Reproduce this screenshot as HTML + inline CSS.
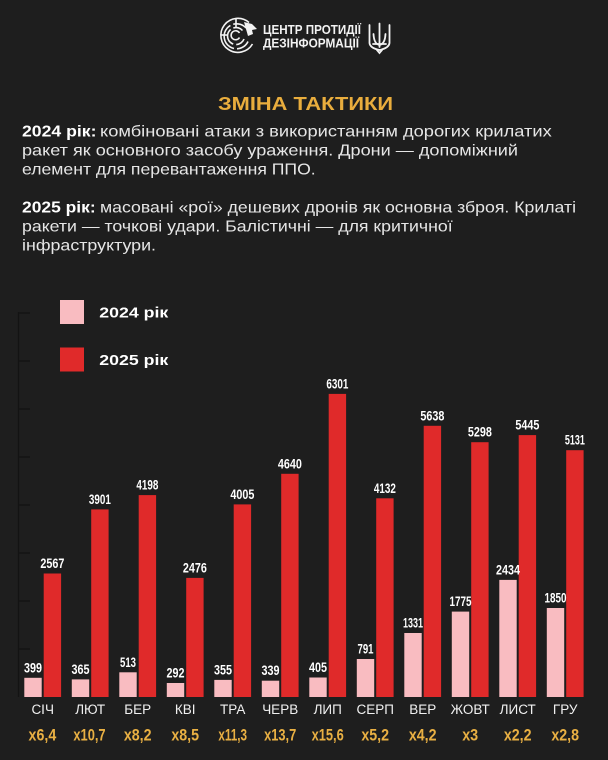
<!DOCTYPE html>
<html>
<head>
<meta charset="utf-8">
<style>
  html,body{margin:0;padding:0;background:#1e1e1e;}
  svg{display:block;}
  .ft{font-family:"Liberation Sans","Noto Sans CJK SC",sans-serif;}
</style>
</head>
<body>
<svg width="608" height="760" viewBox="0 0 608 760" xmlns="http://www.w3.org/2000/svg" class="ft">
  <rect x="0" y="0" width="608" height="760" fill="#1e1e1e"/>

  <!-- Logo -->
  <g fill="none" stroke="#f2f2f2" stroke-width="1.6">
    <path d="M249 22.5 A17 17 0 1 0 252.5 44" />
    <path d="M246 28 A12.5 12.5 0 1 0 248 41.5" stroke-dasharray="14 3 30 3 40"/>
    <path d="M242.5 30.5 A8.5 8.5 0 1 0 244 39" stroke-dasharray="10 3 18 3 30"/>
    <path d="M239.5 33 A4.5 4.5 0 1 0 239.5 37.5"/>
    <line x1="236" y1="18.5" x2="236" y2="27"/>
    <line x1="221" y1="35" x2="228" y2="35"/>
  </g>
  <path d="M244 22 L252 24 L257 29 L252 30 L253 34 L248 36 Z" fill="#f2f2f2"/>

  <text x="263" y="34" font-size="12.5" font-weight="bold" fill="#f2f2f2" textLength="98" lengthAdjust="spacingAndGlyphs">ЦЕНТР ПРОТИДІЇ</text>
  <text x="263" y="47.3" font-size="12.5" font-weight="bold" fill="#f2f2f2" textLength="96" lengthAdjust="spacingAndGlyphs">ДЕЗІНФОРМАЦІЇ</text>

  <!-- Trident -->
  <g fill="none" stroke="#f2f2f2" stroke-width="1.8" stroke-linecap="round">
    <line x1="379.5" y1="23.5" x2="379.5" y2="47"/>
    <path d="M369.5 25 L369.5 43 Q370 48 379.5 50"/>
    <path d="M389.5 25 L389.5 43 Q389 48 379.5 50"/>
    <path d="M379.5 45 Q374 44 373.5 34"/>
    <path d="M379.5 45 Q385 44 385.5 34"/>
    <line x1="373" y1="44" x2="386" y2="44"/>
    <path d="M377 50 L379.5 53 L382 50"/>
  </g>

  <!-- Title -->
  <text x="218" y="110" font-size="18.5" font-weight="bold" fill="#e9ad3d" textLength="175" lengthAdjust="spacingAndGlyphs">ЗМІНА ТАКТИКИ</text>

  <!-- Paragraphs -->
  <g font-size="16" fill="#e6e6e6">
    <text x="22" y="136.5" font-weight="bold" fill="#ffffff" textLength="74.5" lengthAdjust="spacingAndGlyphs">2024 рік:</text>
    <text x="100" y="136.5" textLength="451.7" lengthAdjust="spacingAndGlyphs">комбіновані атаки з використанням дорогих крилатих</text>
    <text x="22" y="155.5" textLength="496" lengthAdjust="spacingAndGlyphs">ракет як основного засобу ураження. Дрони — допоміжний</text>
    <text x="22" y="174.5" textLength="293.7" lengthAdjust="spacingAndGlyphs">елемент для перевантаження ППО.</text>

    <text x="22" y="212.5" font-weight="bold" fill="#ffffff" textLength="73.7" lengthAdjust="spacingAndGlyphs">2025 рік:</text>
    <text x="100" y="212.5" textLength="476" lengthAdjust="spacingAndGlyphs">масовані «рої» дешевих дронів як основна зброя. Крилаті</text>
    <text x="22" y="231.5" textLength="430.7" lengthAdjust="spacingAndGlyphs">ракети — точкові удари. Балістичні — для критичної</text>
    <text x="22" y="250.5" textLength="134" lengthAdjust="spacingAndGlyphs">інфраструктури.</text>
  </g>

  <!-- Legend -->
  <rect x="60" y="300" width="24" height="24" fill="#f9bcc1"/>
  <text x="99.3" y="317.3" font-size="15" font-weight="bold" fill="#ffffff" textLength="69" lengthAdjust="spacingAndGlyphs">2024 рік</text>
  <rect x="60" y="347.5" width="24" height="24" fill="#e02a2a"/>
  <text x="99.3" y="365" font-size="15" font-weight="bold" fill="#ffffff" textLength="69" lengthAdjust="spacingAndGlyphs">2025 рік</text>

  <!-- Axis -->
  <g stroke="#131313" stroke-width="1.3">
    <line x1="18.5" y1="312" x2="18.5" y2="697"/>
    <line x1="18.5" y1="313" x2="30" y2="313"/>
    <line x1="18.5" y1="361" x2="30" y2="361"/>
    <line x1="18.5" y1="409" x2="30" y2="409"/>
    <line x1="18.5" y1="457" x2="30" y2="457"/>
    <line x1="18.5" y1="505" x2="30" y2="505"/>
    <line x1="18.5" y1="553" x2="30" y2="553"/>
    <line x1="18.5" y1="601" x2="30" y2="601"/>
    <line x1="18.5" y1="649" x2="30" y2="649"/>
  </g>

  <!-- Bars 2024 -->
  <g fill="#f9bcc1">
    <rect x="24.3" y="677.8" width="17.4" height="19.2"/>
    <rect x="71.8" y="679.4" width="17.4" height="17.6"/>
    <rect x="119.3" y="672.3" width="17.4" height="24.7"/>
    <rect x="166.8" y="683.0" width="17.4" height="14.0"/>
    <rect x="214.3" y="679.9" width="17.4" height="17.1"/>
    <rect x="261.8" y="680.7" width="17.4" height="16.3"/>
    <rect x="309.3" y="677.5" width="17.4" height="19.5"/>
    <rect x="356.8" y="659.0" width="17.4" height="38.0"/>
    <rect x="404.3" y="633.0" width="17.4" height="64.0"/>
    <rect x="451.8" y="611.6" width="17.4" height="85.4"/>
    <rect x="499.3" y="579.9" width="17.4" height="117.1"/>
    <rect x="546.8" y="608.0" width="17.4" height="89.0"/>
  </g>
  <!-- Bars 2025 -->
  <g fill="#e02a2a">
    <rect x="43.7" y="573.5" width="17.4" height="123.5"/>
    <rect x="91.2" y="509.4" width="17.4" height="187.6"/>
    <rect x="138.7" y="495.1" width="17.4" height="201.9"/>
    <rect x="186.2" y="577.9" width="17.4" height="119.1"/>
    <rect x="233.7" y="504.4" width="17.4" height="192.6"/>
    <rect x="281.2" y="473.8" width="17.4" height="223.2"/>
    <rect x="328.7" y="393.9" width="17.4" height="303.1"/>
    <rect x="376.2" y="498.3" width="17.4" height="198.7"/>
    <rect x="423.7" y="425.8" width="17.4" height="271.2"/>
    <rect x="471.2" y="442.2" width="17.4" height="254.8"/>
    <rect x="518.7" y="435.1" width="17.4" height="261.9"/>
    <rect x="566.2" y="450.2" width="17.4" height="246.8"/>
  </g>

  <!-- Value labels 2024 -->
  <g font-size="13.5" font-weight="bold" fill="#ffffff" text-anchor="middle" lengthAdjust="spacingAndGlyphs">
    <text x="33" y="672.3" textLength="18" lengthAdjust="spacingAndGlyphs">399</text>
    <text x="80.5" y="673.9" textLength="18" lengthAdjust="spacingAndGlyphs">365</text>
    <text x="128" y="666.8" textLength="16" lengthAdjust="spacingAndGlyphs">513</text>
    <text x="175.5" y="677.5" textLength="18" lengthAdjust="spacingAndGlyphs">292</text>
    <text x="223" y="674.4" textLength="18" lengthAdjust="spacingAndGlyphs">355</text>
    <text x="270.5" y="675.2" textLength="18" lengthAdjust="spacingAndGlyphs">339</text>
    <text x="318" y="672.0" textLength="18" lengthAdjust="spacingAndGlyphs">405</text>
    <text x="365.5" y="653.5" textLength="16" lengthAdjust="spacingAndGlyphs">791</text>
    <text x="413" y="627.5" textLength="20" lengthAdjust="spacingAndGlyphs">1331</text>
    <text x="460.5" y="606.1" textLength="22" lengthAdjust="spacingAndGlyphs">1775</text>
    <text x="508" y="574.4" textLength="24" lengthAdjust="spacingAndGlyphs">2434</text>
    <text x="555.5" y="602.5" textLength="22" lengthAdjust="spacingAndGlyphs">1850</text>
  </g>
  <!-- Value labels 2025 -->
  <g font-size="13.5" font-weight="bold" fill="#ffffff" text-anchor="middle">
    <text x="52.4" y="568.0" textLength="24" lengthAdjust="spacingAndGlyphs">2567</text>
    <text x="99.9" y="503.9" textLength="22" lengthAdjust="spacingAndGlyphs">3901</text>
    <text x="147.4" y="489.6" textLength="22" lengthAdjust="spacingAndGlyphs">4198</text>
    <text x="194.9" y="572.4" textLength="24" lengthAdjust="spacingAndGlyphs">2476</text>
    <text x="242.4" y="498.9" textLength="24" lengthAdjust="spacingAndGlyphs">4005</text>
    <text x="289.9" y="468.3" textLength="24" lengthAdjust="spacingAndGlyphs">4640</text>
    <text x="337.4" y="388.4" textLength="22" lengthAdjust="spacingAndGlyphs">6301</text>
    <text x="384.9" y="492.8" textLength="22" lengthAdjust="spacingAndGlyphs">4132</text>
    <text x="432.4" y="420.3" textLength="24" lengthAdjust="spacingAndGlyphs">5638</text>
    <text x="479.9" y="436.7" textLength="24" lengthAdjust="spacingAndGlyphs">5298</text>
    <text x="527.4" y="429.6" textLength="24" lengthAdjust="spacingAndGlyphs">5445</text>
    <text x="574.9" y="444.7" textLength="20" lengthAdjust="spacingAndGlyphs">5131</text>
  </g>

  <!-- Month labels -->
  <g font-size="13.5" fill="#f0f0f0" text-anchor="middle">
    <text x="42.7" y="714">СІЧ</text>
    <text x="90.2" y="714">ЛЮТ</text>
    <text x="137.7" y="714">БЕР</text>
    <text x="185.2" y="714">КВІ</text>
    <text x="232.7" y="714">ТРА</text>
    <text x="280.2" y="714">ЧЕРВ</text>
    <text x="327.7" y="714">ЛИП</text>
    <text x="375.2" y="714">СЕРП</text>
    <text x="422.7" y="714">ВЕР</text>
    <text x="470.2" y="714">ЖОВТ</text>
    <text x="517.7" y="714">ЛИСТ</text>
    <text x="565.2" y="714">ГРУ</text>
  </g>

  <!-- Multipliers -->
  <g font-size="17" font-weight="bold" fill="#e9b043" text-anchor="middle">
    <text x="42.4" y="740.7" textLength="27.7" lengthAdjust="spacingAndGlyphs">x6,4</text>
    <text x="89.5" y="740.7" textLength="32.2" lengthAdjust="spacingAndGlyphs">x10,7</text>
    <text x="137.7" y="740.7" textLength="27.7" lengthAdjust="spacingAndGlyphs">x8,2</text>
    <text x="185.2" y="740.7" textLength="27.7" lengthAdjust="spacingAndGlyphs">x8,5</text>
    <text x="232.7" y="740.7" textLength="28.7" lengthAdjust="spacingAndGlyphs">x11,3</text>
    <text x="280.2" y="740.7" textLength="32.2" lengthAdjust="spacingAndGlyphs">x13,7</text>
    <text x="327.7" y="740.7" textLength="32.2" lengthAdjust="spacingAndGlyphs">x15,6</text>
    <text x="375.2" y="740.7" textLength="27.7" lengthAdjust="spacingAndGlyphs">x5,2</text>
    <text x="422.7" y="740.7" textLength="27.7" lengthAdjust="spacingAndGlyphs">x4,2</text>
    <text x="470.2" y="740.7" textLength="16" lengthAdjust="spacingAndGlyphs">x3</text>
    <text x="517.7" y="740.7" textLength="27.7" lengthAdjust="spacingAndGlyphs">x2,2</text>
    <text x="565.2" y="740.7" textLength="27.7" lengthAdjust="spacingAndGlyphs">x2,8</text>
  </g>
</svg>
</body>
</html>
